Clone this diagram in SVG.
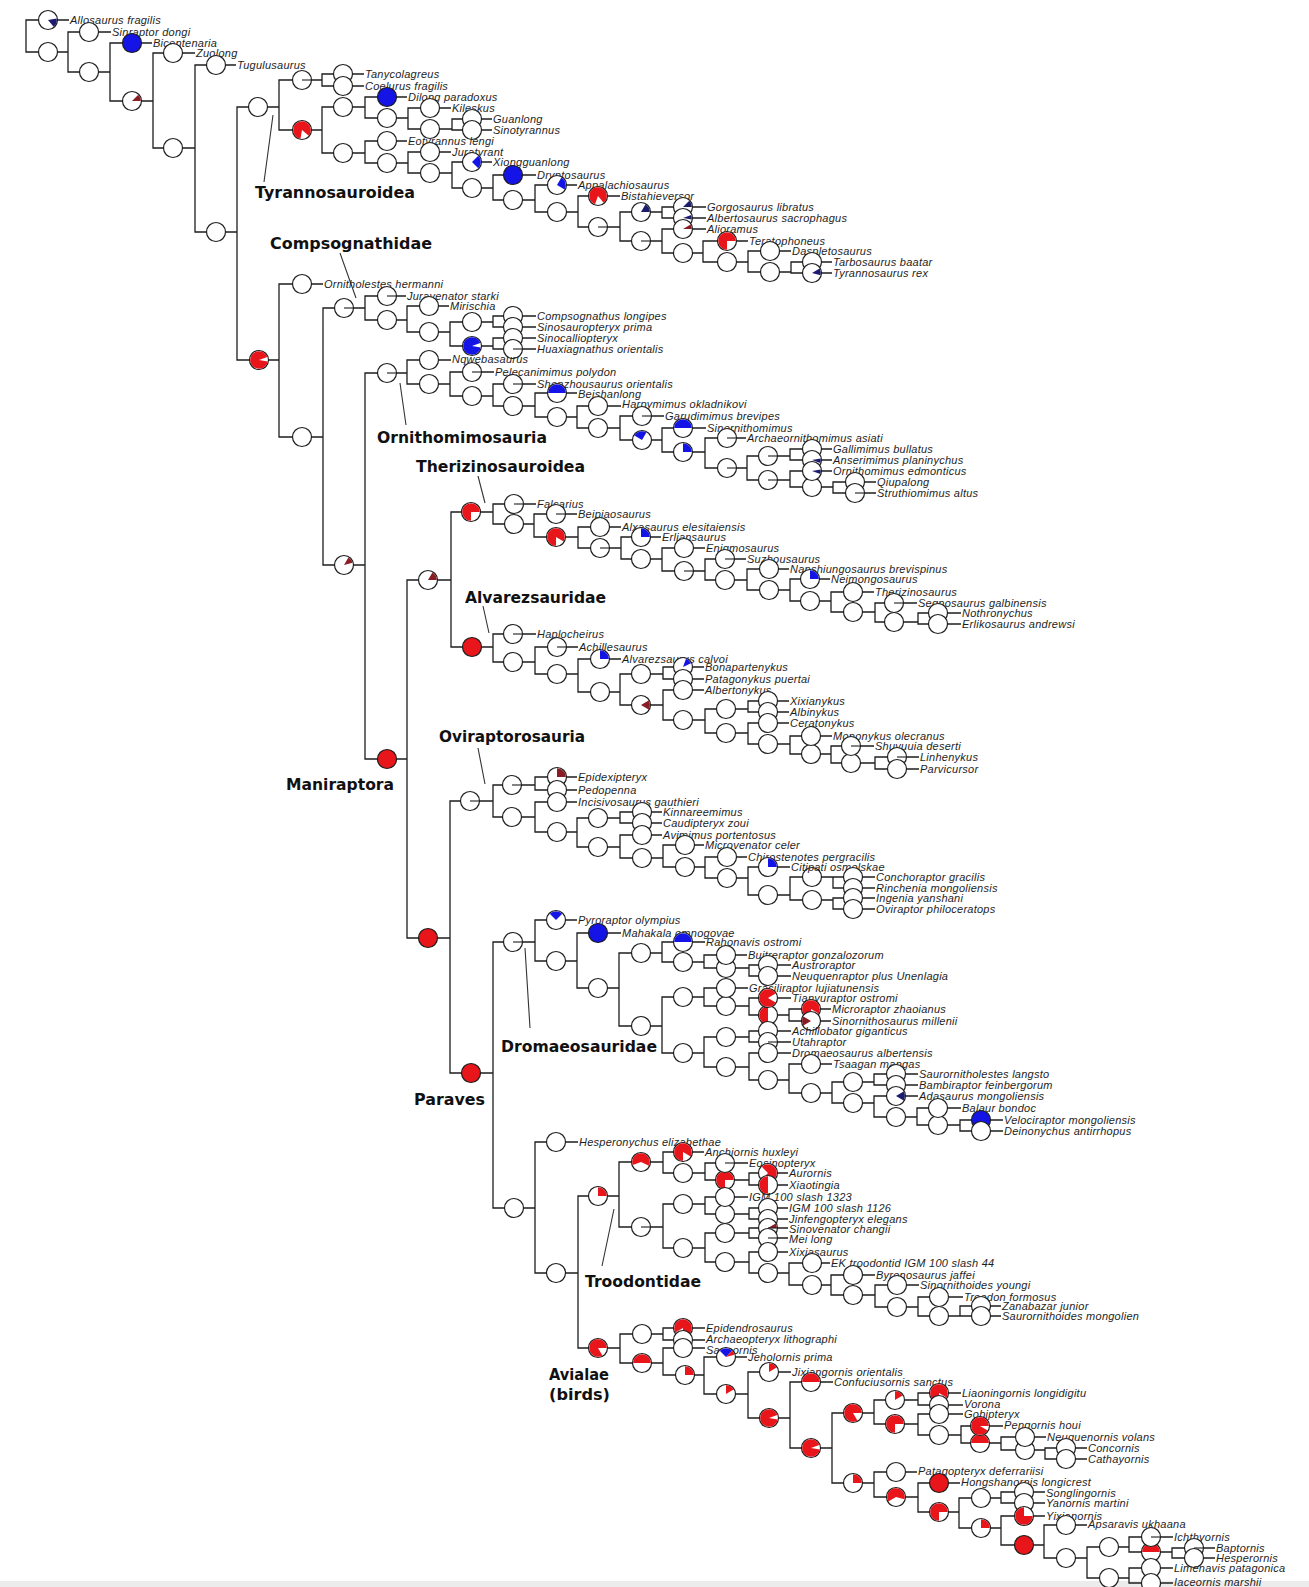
<svg xmlns="http://www.w3.org/2000/svg" width="1309" height="1587" viewBox="0 0 1309 1587">
<style>
.c{fill:none;stroke:#1e1e1e;stroke-width:1.3}
.p{fill:none;stroke:#333;stroke-width:1.1}
.w{fill:#fff;stroke:#1e1e1e;stroke-width:1.2}
.R{fill:#e8161b;stroke:#1e1e1e;stroke-width:1.2}
.B{fill:#1414e6;stroke:#1e1e1e;stroke-width:1.2}
.r{fill:#e8161b}.b{fill:#1414e6}.d{fill:#8a1c24}.v{fill:#1c1c6e}
.k{fill:none;stroke:#1e1e1e;stroke-width:1.1}
text.t{font-family:"Liberation Sans",Arial,sans-serif;font-style:italic;font-size:11px;letter-spacing:0.25px;fill:#1e1e1e}
text.h{font-family:"DejaVu Sans","Liberation Sans",sans-serif;font-weight:bold;font-size:15px;fill:#111}
</style>
<defs>
<path id="w30" d="M0,0V-8.8A8.8,8.8 0 0 1 4.4,-7.62Z"/>
<path id="w45" d="M0,0V-8.8A8.8,8.8 0 0 1 6.22,-6.22Z"/>
<path id="w60" d="M0,0V-8.8A8.8,8.8 0 0 1 7.62,-4.4Z"/>
<path id="w90" d="M0,0V-8.8A8.8,8.8 0 0 1 8.8,0Z"/>
<path id="w180" d="M0,0V-8.8A8.8,8.8 0 0 1 0,8.8Z"/>
<path id="w225" d="M0,0V-8.8A8.8,8.8 0 1 1 -6.22,6.22Z"/>
<path id="w270" d="M0,0V-8.8A8.8,8.8 0 1 1 -8.8,0Z"/>
<path id="w300" d="M0,0V-8.8A8.8,8.8 0 1 1 -7.62,-4.4Z"/>
<path id="w330" d="M0,0V-8.8A8.8,8.8 0 1 1 -4.4,-7.62Z"/>
</defs>
<rect x="0" y="0" width="1309" height="1587" fill="#fff"/>
<rect x="0" y="1581" width="1309" height="6" fill="#ececec"/>

<g id="connectors">
<path class="c" d="M48,20H26V52H48M48,52H68M89,32H68V72H89M89,72H110M132,43H110V101H132M132,101H153M173,53H153V148H173M173,148H195M216,65H195V232H216M216,232H237M258,107H237V360H259"/>
<path class="c" d="M258,107H279M302,80H279V130H302M302,80H322M343,74H322V86H343M302,130H322M343,107H322V153H343M343,107H365M387,97H365V118H387M387,118H408M430,108H408V129H430M430,129H452M472,119H452V130H472M343,153H365M387,141H365V163H387M387,163H408M430,152H408V173H430M430,173H452M472,162H452V188H472M472,188H493M513,175H493V200H513M513,200H535M557,185H535V212H557M557,212H578M598,196H578V227H598M598,227H620M641,212H620V241H641M641,212H662M683,207H662V218H683M641,241H662M683,229H662V253H683M683,253H703M727,241H703V262H727M727,262H748M770,251H748V272H770M770,272H791M812,262H791V273H812"/>
<path class="c" d="M259,360H279M302,284H279V437H302M302,437H323M344,308H323V565H344M344,308H365M387,296H365V320H387M387,320H407M429,306H407V332H429M429,332H450M472,322H450V346H472M472,322H493M513,316H493V327H513M472,346H493M513,338H493V349H513M344,565H365M387,373H365V759H387"/>
<path class="c" d="M387,373H407M429,360H407V384H429M429,384H450M472,372H450V396H472M472,396H493M513,384H493V406H513M513,406H535M557,393H535V417H557M557,417H577M598,406H577V428H598M598,428H620M642,416H620V440H642M642,440H662M683,428H662V452H683M683,452H705M727,438H705V468H727M727,468H747M768,456H747V480H768M768,456H790M812,449H790V460H812M768,480H790M812,471H790V487H812M812,487H833M855,482H833V493H855"/>
<path class="c" d="M387,759H407M428,580H407V938H428M428,580H451M471,512H451V647H472M471,512H493M514,504H493V524H514M514,524H534M556,514H534V537H556M556,537H578M600,527H578V548H600M600,548H621M641,537H621V559H641M641,559H662M684,548H662V571H684M684,571H705M725,559H705V580H725M725,580H747M769,569H747V590H769M769,590H790M810,579H790V601H810M810,601H831M853,592H831V612H853M853,612H875M894,603H875V622H894M894,622H918M938,613H918V624H938"/>
<path class="c" d="M472,647H493M513,634H493V662H513M513,662H535M557,647H535V674H557M557,674H578M600,659H578V692H600M600,692H620M641,674H620V705H641M641,674H663M683,667H663V679H683M641,705H663M683,690H663V720H683M683,720H705M726,709H705V733H726M726,709H748M768,701H748V712H768M726,733H748M768,723H748V744H768M768,744H790M811,736H790V754H811M811,754H831M851,746H831V763H851M851,763H875M897,757H875V769H897"/>
<path class="c" d="M428,938H450M470,801H450V1073H471M470,801H493M512,785H493V817H512M512,785H535M557,777H535V790H557M512,817H535M557,802H535V832H557M557,832H577M598,818H577V847H598M598,818H620M642,812H620V823H642M598,847H620M642,835H620V858H642M642,858H663M685,845H663V867H685M685,867H705M727,857H705V878H727M727,878H748M768,867H748V895H768M768,895H790M812,877H790V900H812M812,877H833M853,877H833V888H853M812,900H833M853,898H833V909H853"/>
<path class="c" d="M471,1073H493M513,942H493V1208H514M513,942H535M556,920H535V961H556M556,961H577M598,933H577V988H598M598,988H619M641,953H619V1026H641M641,953H662M683,942H662V962H683M683,962H704M726,955H704V968H726M726,968H749M768,965H749V976H768M641,1026H662M683,997H662V1053H683M683,997H704M726,988H704V1006H726M726,1006H749M768,998H749V1015H768M768,1015H789M811,1009H789V1021H811M683,1053H704M726,1037H704V1067H726M726,1037H749M768,1031H749V1042H768M726,1067H749M768,1053H749V1080H768M768,1080H789M811,1064H789V1093H811M811,1093H832M853,1082H832V1103H853M853,1082H874M896,1074H874V1085H896M853,1103H874M896,1096H874V1117H896M896,1117H917M938,1108H917V1125H938M938,1125H960M981,1120H960V1131H981"/>
<path class="c" d="M514,1208H535M556,1142H535V1273H556M556,1273H578M598,1196H578V1348H598M598,1196H619M641,1162H619V1227H641M641,1162H663M683,1152H663V1173H683M683,1173H705M725,1163H705V1180H725M725,1180H749M768,1173H749V1185H768M641,1227H663M683,1204H663V1248H683M683,1204H705M725,1197H705V1214H725M725,1214H749M768,1208H749V1219H768M683,1248H705M725,1233H705V1262H725M725,1233H749M768,1228H749V1238H768M725,1262H749M768,1252H749V1273H768M768,1273H789M812,1263H789V1285H812M812,1285H831M853,1275H831V1295H853M853,1295H875M897,1285H875V1307H897M897,1307H918M939,1297H918V1316H939M939,1316H960M981,1306H960V1316H981"/>
<path class="c" d="M598,1348H620M642,1334H620V1363H642M642,1334H663M683,1328H663V1340H683M642,1363H663M683,1348H663V1375H685M685,1375H704M726,1357H704V1394H726M726,1394H748M769,1372H748V1418H769M769,1418H790M811,1382H790V1448H811M811,1448H832M853,1413H832V1483H853M853,1413H874M895,1400H874V1424H895M895,1400H918M939,1393H918V1405H939M895,1424H918M939,1414H918V1435H939M939,1435H961M980,1426H961V1443H980M980,1443H1001M1025,1437H1001V1450H1025M1025,1450H1045M1066,1448H1045V1459H1066M853,1483H874M896,1472H874V1497H896M896,1497H918M939,1483H918V1512H939M939,1512H959M981,1498H959V1528H981M981,1498H1001M1024,1492H1001V1503H1024M981,1528H1001M1024,1516H1001V1545H1024M1024,1545H1044M1066,1525H1044V1558H1066M1066,1558H1087M1109,1547H1087V1578H1109M1109,1547H1129M1151,1537H1129V1552H1151M1151,1552H1172M1194,1548H1172V1558H1194M1109,1578H1129M1151,1568H1129V1583H1151"/>
<path class="c" d="M48,20H69M89,32H111M132,43H152M173,53H195M216,65H236M343,74H364M343,86H364M387,97H407M430,108H451M472,119H492M472,130H492M387,141H407M430,152H451M472,162H492M513,175H536M557,185H577M598,196H620M683,207H706M683,218H706M683,229H706M727,241H748M770,251H791M812,262H832M812,273H832M302,284H323M387,296H406M429,306H449M513,316H536M513,327H536M513,338H536M513,349H536M429,360H451M472,372H494M513,384H536M557,393H577M598,406H621M642,416H664M683,428H706M727,438H746M812,449H832M812,460H832M812,471H832M855,482H876M855,493H876M514,504H536M556,514H577M600,527H621M641,537H661M684,548H705M725,559H746M769,569H789M810,579H830M853,592H874M894,603H917M938,613H961M938,624H961M513,634H536M557,647H578M600,659H621M683,667H704M683,679H704M683,690H704M768,701H789M768,712H789M768,723H789M811,736H832M851,746H874M897,757H919M897,769H919M557,777H577M557,790H577M557,802H577M642,812H662M642,823H662M642,835H662M685,845H704M727,857H747M768,867H790M853,877H875M853,888H875M853,898H875M853,909H875M556,920H577M598,933H621M683,942H705M726,955H747M768,965H791M768,976H791M726,988H748M768,998H791M811,1009H831M811,1021H831M768,1031H791M768,1042H791M768,1053H791M811,1064H832M896,1074H918M896,1085H918M896,1096H918M938,1108H961M981,1120H1003M981,1131H1003M556,1142H578M683,1152H704M725,1163H748M768,1173H788M768,1185H788M725,1197H748M768,1208H788M768,1219H788M768,1228H788M768,1238H788M768,1252H788M812,1263H830M853,1275H875M897,1285H919M939,1297H963M981,1306H1001M981,1316H1001M683,1328H705M683,1340H705M683,1348H705M726,1357H747M769,1372H791M811,1382H833M939,1393H961M939,1405H963M939,1414H963M980,1426H1003M1025,1437H1046M1066,1448H1087M1066,1459H1087M896,1472H917M939,1483H960M1024,1492H1045M1024,1503H1045M1024,1516H1045M1066,1525H1087M1151,1537H1173M1194,1548H1215M1194,1558H1215M1151,1568H1173M1151,1583H1173"/>
<path class="p" d="M273,115L264,182M340,253L356,298M400,383L406,425M478,476L485,503M483,606L489,633M478,748L485,784M525,948L530,1028M614,1209L602,1266"/>
</g>

<g id="clade-labels">
<text class="h" x="255" y="198" textLength="160" lengthAdjust="spacingAndGlyphs">Tyrannosauroidea</text>
<text class="h" x="270" y="249" textLength="162" lengthAdjust="spacingAndGlyphs">Compsognathidae</text>
<text class="h" x="377" y="443" textLength="170" lengthAdjust="spacingAndGlyphs">Ornithomimosauria</text>
<text class="h" x="416" y="472" textLength="169" lengthAdjust="spacingAndGlyphs">Therizinosauroidea</text>
<text class="h" x="465" y="603" textLength="141" lengthAdjust="spacingAndGlyphs">Alvarezsauridae</text>
<text class="h" x="439" y="742" textLength="146" lengthAdjust="spacingAndGlyphs">Oviraptorosauria</text>
<text class="h" x="286" y="790" textLength="108" lengthAdjust="spacingAndGlyphs">Maniraptora</text>
<text class="h" x="501" y="1052" textLength="156" lengthAdjust="spacingAndGlyphs">Dromaeosauridae</text>
<text class="h" x="414" y="1105" textLength="71" lengthAdjust="spacingAndGlyphs">Paraves</text>
<text class="h" x="585" y="1287" textLength="116" lengthAdjust="spacingAndGlyphs">Troodontidae</text>
<text class="h" x="549" y="1380" textLength="60" lengthAdjust="spacingAndGlyphs">Avialae</text>
<text class="h" x="549" y="1400" textLength="61" lengthAdjust="spacingAndGlyphs">(birds)</text>
</g>

<g id="internal-nodes">
<g id="n-root1"><circle class="w" cx="48" cy="52" r="9.5"/></g>
<g id="n-n2"><circle class="w" cx="89" cy="72" r="9.5"/></g>
<g id="n-n3"><circle class="w" cx="132" cy="101" r="9.5"/><use href="#w45" class="d" transform="translate(132,101) rotate(45)"/></g>
<g id="n-n4"><circle class="w" cx="173" cy="148" r="9.5"/></g>
<g id="n-n5"><circle class="w" cx="216" cy="232" r="9.5"/></g>
<g id="n-tyr"><circle class="w" cx="258" cy="107" r="9.5"/></g>
<g id="n-t1"><circle class="w" cx="302" cy="80" r="9.5"/><path class="k" d="M302,80h9"/></g>
<g id="n-t2"><circle class="w" cx="302" cy="130" r="9.5"/><use href="#w300" class="r" transform="translate(302,130) rotate(190)"/></g>
<g id="n-t3"><circle class="w" cx="343" cy="107" r="9.5"/></g>
<g id="n-t4"><circle class="w" cx="343" cy="153" r="9.5"/></g>
<g id="n-t5"><circle class="w" cx="387" cy="118" r="9.5"/></g>
<g id="n-t6"><circle class="w" cx="430" cy="129" r="9.5"/></g>
<g id="n-t7"><circle class="w" cx="387" cy="163" r="9.5"/></g>
<g id="n-t8"><circle class="w" cx="430" cy="173" r="9.5"/></g>
<g id="n-t9"><circle class="w" cx="472" cy="188" r="9.5"/></g>
<g id="n-t10"><circle class="w" cx="513" cy="200" r="9.5"/></g>
<g id="n-t11"><circle class="w" cx="557" cy="212" r="9.5"/></g>
<g id="n-t12"><circle class="w" cx="598" cy="227" r="9.5"/><path class="k" d="M598,227h9"/></g>
<g id="n-t13"><circle class="w" cx="641" cy="212" r="9.5"/><use href="#w60" class="v" transform="translate(641,212) rotate(30)"/></g>
<g id="n-t14"><circle class="w" cx="641" cy="241" r="9.5"/><path class="k" d="M641,241h9"/></g>
<g id="n-t15"><circle class="w" cx="683" cy="253" r="9.5"/></g>
<g id="n-t16"><circle class="w" cx="727" cy="262" r="9.5"/></g>
<g id="n-t17"><circle class="w" cx="770" cy="272" r="9.5"/></g>
<g id="n-c0"><circle class="w" cx="259" cy="360" r="9.5"/><use href="#w330" class="r" transform="translate(259,360) rotate(100)"/></g>
<g id="n-c1"><circle class="w" cx="302" cy="437" r="9.5"/></g>
<g id="n-compso"><circle class="w" cx="344" cy="308" r="9.5"/><path class="k" d="M344,308h9"/></g>
<g id="n-c3"><circle class="w" cx="387" cy="320" r="9.5"/></g>
<g id="n-c4"><circle class="w" cx="429" cy="332" r="9.5"/></g>
<g id="n-c5"><circle class="w" cx="472" cy="322" r="9.5"/></g>
<g id="n-c6"><circle class="w" cx="472" cy="346" r="9.5"/><use href="#w330" class="b" transform="translate(472,346) rotate(100)"/></g>
<g id="n-m0"><circle class="w" cx="344" cy="565" r="9.5"/><use href="#w45" class="d" transform="translate(344,565) rotate(30)"/></g>
<g id="n-ornitho"><circle class="w" cx="387" cy="373" r="9.5"/><path class="k" d="M387,373h9"/></g>
<g id="n-o1"><circle class="w" cx="429" cy="384" r="9.5"/></g>
<g id="n-o2"><circle class="w" cx="472" cy="396" r="9.5"/></g>
<g id="n-o3"><circle class="w" cx="513" cy="406" r="9.5"/></g>
<g id="n-o4"><circle class="w" cx="557" cy="417" r="9.5"/></g>
<g id="n-o5"><circle class="w" cx="598" cy="428" r="9.5"/></g>
<g id="n-o6"><circle class="w" cx="642" cy="440" r="9.5"/><use href="#w90" class="b" transform="translate(642,440) rotate(300)"/></g>
<g id="n-o7"><circle class="w" cx="683" cy="452" r="9.5"/><use href="#w90" class="b" transform="translate(683,452)"/></g>
<g id="n-o8"><circle class="w" cx="727" cy="468" r="9.5"/><path class="k" d="M727,468h9"/></g>
<g id="n-o9"><circle class="w" cx="768" cy="456" r="9.5"/><path class="k" d="M768,456h9"/></g>
<g id="n-o10"><circle class="w" cx="768" cy="480" r="9.5"/><path class="k" d="M768,480h9"/></g>
<g id="n-o11"><circle class="w" cx="812" cy="487" r="9.5"/></g>
<g id="n-maniraptora"><circle class="R" cx="387" cy="759" r="9.5"/></g>
<g id="n-ma"><circle class="w" cx="428" cy="580" r="9.5"/><use href="#w60" class="d" transform="translate(428,580) rotate(30)"/></g>
<g id="n-mb"><circle class="R" cx="428" cy="938" r="9.5"/></g>
<g id="n-therizino"><circle class="w" cx="471" cy="512" r="9.5"/><use href="#w270" class="r" transform="translate(471,512) rotate(180)"/></g>
<g id="n-th1"><circle class="w" cx="514" cy="524" r="9.5"/></g>
<g id="n-th2"><circle class="w" cx="556" cy="537" r="9.5"/><use href="#w300" class="r" transform="translate(556,537) rotate(180)"/></g>
<g id="n-th3"><circle class="w" cx="600" cy="548" r="9.5"/><path class="k" d="M600,548h9"/></g>
<g id="n-th4"><circle class="w" cx="641" cy="559" r="9.5"/></g>
<g id="n-th5"><circle class="w" cx="684" cy="571" r="9.5"/><path class="k" d="M684,571h9"/></g>
<g id="n-th6"><circle class="w" cx="725" cy="580" r="9.5"/></g>
<g id="n-th7"><circle class="w" cx="769" cy="590" r="9.5"/></g>
<g id="n-th8"><circle class="w" cx="810" cy="601" r="9.5"/></g>
<g id="n-th9"><circle class="w" cx="853" cy="612" r="9.5"/></g>
<g id="n-th10"><circle class="w" cx="894" cy="622" r="9.5"/></g>
<g id="n-alvarez"><circle class="R" cx="472" cy="647" r="9.5"/></g>
<g id="n-al1"><circle class="w" cx="513" cy="662" r="9.5"/></g>
<g id="n-al2"><circle class="w" cx="557" cy="674" r="9.5"/></g>
<g id="n-al3"><circle class="w" cx="600" cy="692" r="9.5"/></g>
<g id="n-al4"><circle class="w" cx="641" cy="674" r="9.5"/></g>
<g id="n-al5"><circle class="w" cx="641" cy="705" r="9.5"/><use href="#w60" class="d" transform="translate(641,705) rotate(60)"/></g>
<g id="n-al6"><circle class="w" cx="683" cy="720" r="9.5"/></g>
<g id="n-al7"><circle class="w" cx="726" cy="709" r="9.5"/></g>
<g id="n-al8"><circle class="w" cx="726" cy="733" r="9.5"/></g>
<g id="n-al9"><circle class="w" cx="768" cy="744" r="9.5"/></g>
<g id="n-al10"><circle class="w" cx="811" cy="754" r="9.5"/></g>
<g id="n-al11"><circle class="w" cx="851" cy="763" r="9.5"/></g>
<g id="n-ovirapt"><circle class="w" cx="470" cy="801" r="9.5"/><path class="k" d="M470,801h9"/></g>
<g id="n-ov1"><circle class="w" cx="512" cy="785" r="9.5"/><path class="k" d="M512,785h9"/></g>
<g id="n-ov2"><circle class="w" cx="512" cy="817" r="9.5"/></g>
<g id="n-ov3"><circle class="w" cx="557" cy="832" r="9.5"/></g>
<g id="n-ov4"><circle class="w" cx="598" cy="818" r="9.5"/></g>
<g id="n-ov5"><circle class="w" cx="598" cy="847" r="9.5"/></g>
<g id="n-ov6"><circle class="w" cx="642" cy="858" r="9.5"/></g>
<g id="n-ov7"><circle class="w" cx="685" cy="867" r="9.5"/></g>
<g id="n-ov8"><circle class="w" cx="727" cy="878" r="9.5"/></g>
<g id="n-ov9"><circle class="w" cx="768" cy="895" r="9.5"/></g>
<g id="n-ov10"><circle class="w" cx="812" cy="877" r="9.5"/></g>
<g id="n-ov11"><circle class="w" cx="812" cy="900" r="9.5"/></g>
<g id="n-paraves"><circle class="R" cx="471" cy="1073" r="9.5"/></g>
<g id="n-dromaeo"><circle class="w" cx="513" cy="942" r="9.5"/><path class="k" d="M513,942h9"/></g>
<g id="n-dr1"><circle class="w" cx="556" cy="961" r="9.5"/></g>
<g id="n-dr2"><circle class="w" cx="598" cy="988" r="9.5"/></g>
<g id="n-dr3"><circle class="w" cx="641" cy="953" r="9.5"/></g>
<g id="n-dr4"><circle class="w" cx="641" cy="1026" r="9.5"/></g>
<g id="n-dr5"><circle class="w" cx="683" cy="962" r="9.5"/></g>
<g id="n-dr6"><circle class="w" cx="726" cy="968" r="9.5"/></g>
<g id="n-dr7"><circle class="w" cx="683" cy="997" r="9.5"/></g>
<g id="n-dr8"><circle class="w" cx="683" cy="1053" r="9.5"/></g>
<g id="n-dr9"><circle class="w" cx="726" cy="1006" r="9.5"/></g>
<g id="n-dr10"><circle class="w" cx="768" cy="1015" r="9.5"/><use href="#w180" class="r" transform="translate(768,1015) rotate(180)"/></g>
<g id="n-dr11"><circle class="w" cx="726" cy="1037" r="9.5"/></g>
<g id="n-dr12"><circle class="w" cx="726" cy="1067" r="9.5"/></g>
<g id="n-dr13"><circle class="w" cx="768" cy="1080" r="9.5"/></g>
<g id="n-dr14"><circle class="w" cx="811" cy="1093" r="9.5"/></g>
<g id="n-dr15"><circle class="w" cx="853" cy="1082" r="9.5"/></g>
<g id="n-dr16"><circle class="w" cx="853" cy="1103" r="9.5"/></g>
<g id="n-dr17"><circle class="w" cx="896" cy="1117" r="9.5"/></g>
<g id="n-dr18"><circle class="w" cx="938" cy="1125" r="9.5"/></g>
<g id="n-pb"><circle class="w" cx="514" cy="1208" r="9.5"/></g>
<g id="n-pc"><circle class="w" cx="556" cy="1273" r="9.5"/></g>
<g id="n-troodont"><circle class="w" cx="598" cy="1196" r="9.5"/><use href="#w90" class="r" transform="translate(598,1196)"/></g>
<g id="n-tr1"><circle class="w" cx="641" cy="1162" r="9.5"/><use href="#w225" class="r" transform="translate(641,1162) rotate(250)"/></g>
<g id="n-tr2"><circle class="w" cx="641" cy="1227" r="9.5"/><path class="k" d="M641,1227h9"/></g>
<g id="n-tr3"><circle class="w" cx="683" cy="1173" r="9.5"/></g>
<g id="n-tr4"><circle class="w" cx="725" cy="1180" r="9.5"/><use href="#w270" class="r" transform="translate(725,1180) rotate(180)"/></g>
<g id="n-tr5"><circle class="w" cx="683" cy="1204" r="9.5"/></g>
<g id="n-tr6"><circle class="w" cx="683" cy="1248" r="9.5"/></g>
<g id="n-tr7"><circle class="w" cx="725" cy="1214" r="9.5"/></g>
<g id="n-tr8"><circle class="w" cx="725" cy="1233" r="9.5"/></g>
<g id="n-tr9"><circle class="w" cx="725" cy="1262" r="9.5"/></g>
<g id="n-tr10"><circle class="w" cx="768" cy="1273" r="9.5"/></g>
<g id="n-tr11"><circle class="w" cx="812" cy="1285" r="9.5"/></g>
<g id="n-tr12"><circle class="w" cx="853" cy="1295" r="9.5"/></g>
<g id="n-tr13"><circle class="w" cx="897" cy="1307" r="9.5"/></g>
<g id="n-tr14"><circle class="w" cx="939" cy="1316" r="9.5"/></g>
<g id="n-avialae"><circle class="w" cx="598" cy="1348" r="9.5"/><use href="#w300" class="r" transform="translate(598,1348) rotate(150)"/></g>
<g id="n-av1"><circle class="w" cx="642" cy="1334" r="9.5"/></g>
<g id="n-av2"><circle class="w" cx="642" cy="1363" r="9.5"/><use href="#w180" class="r" transform="translate(642,1363) rotate(270)"/></g>
<g id="n-av3"><circle class="w" cx="685" cy="1375" r="9.5"/><use href="#w90" class="r" transform="translate(685,1375)"/></g>
<g id="n-av4"><circle class="w" cx="726" cy="1394" r="9.5"/><use href="#w60" class="r" transform="translate(726,1394)"/></g>
<g id="n-av5"><circle class="w" cx="769" cy="1418" r="9.5"/><use href="#w330" class="r" transform="translate(769,1418) rotate(100)"/></g>
<g id="n-av6"><circle class="w" cx="811" cy="1448" r="9.5"/><use href="#w330" class="r" transform="translate(811,1448) rotate(100)"/></g>
<g id="n-av7"><circle class="w" cx="853" cy="1413" r="9.5"/><use href="#w300" class="r" transform="translate(853,1413) rotate(150)"/></g>
<g id="n-av8"><circle class="w" cx="853" cy="1483" r="9.5"/><use href="#w90" class="r" transform="translate(853,1483)"/></g>
<g id="n-av9"><circle class="w" cx="895" cy="1400" r="9.5"/><use href="#w60" class="r" transform="translate(895,1400)"/></g>
<g id="n-av10"><circle class="w" cx="895" cy="1424" r="9.5"/><use href="#w270" class="r" transform="translate(895,1424) rotate(180)"/></g>
<g id="n-av11"><circle class="w" cx="939" cy="1435" r="9.5"/></g>
<g id="n-av12"><circle class="w" cx="980" cy="1443" r="9.5"/><use href="#w180" class="r" transform="translate(980,1443) rotate(270)"/></g>
<g id="n-av13"><circle class="w" cx="1025" cy="1450" r="9.5"/></g>
<g id="n-av14"><circle class="w" cx="896" cy="1497" r="9.5"/><use href="#w225" class="r" transform="translate(896,1497) rotate(240)"/></g>
<g id="n-av15"><circle class="w" cx="939" cy="1512" r="9.5"/><use href="#w270" class="r" transform="translate(939,1512) rotate(180)"/></g>
<g id="n-av16"><circle class="w" cx="981" cy="1498" r="9.5"/></g>
<g id="n-av17"><circle class="w" cx="981" cy="1528" r="9.5"/><use href="#w90" class="r" transform="translate(981,1528)"/></g>
<g id="n-av18"><circle class="R" cx="1024" cy="1545" r="9.5"/></g>
<g id="n-av19"><circle class="w" cx="1066" cy="1558" r="9.5"/></g>
<g id="n-av20"><circle class="w" cx="1109" cy="1547" r="9.5"/></g>
<g id="n-av21"><circle class="w" cx="1109" cy="1578" r="9.5"/></g>
<g id="n-av22"><circle class="w" cx="1151" cy="1552" r="9.5"/><use href="#w180" class="r" transform="translate(1151,1552) rotate(270)"/></g>
</g>

<g id="leaves">
<g id="l-allosaurus"><circle class="w" cx="48" cy="20" r="9.5"/><use href="#w60" class="v" transform="translate(48,20) rotate(80)"/><text class="t" x="70" y="24">Allosaurus fragilis</text></g>
<g id="l-sinraptor"><circle class="w" cx="89" cy="32" r="9.5"/><text class="t" x="112" y="36">Sinraptor dongi</text></g>
<g id="l-bicentenaria"><circle class="B" cx="132" cy="43" r="9.5"/><text class="t" x="153" y="47">Bicentenaria</text></g>
<g id="l-zuolong"><circle class="w" cx="173" cy="53" r="9.5"/><text class="t" x="196" y="57">Zuolong</text></g>
<g id="l-tugulusaurus"><circle class="w" cx="216" cy="65" r="9.5"/><text class="t" x="237" y="69">Tugulusaurus</text></g>
<g id="l-tanycolagreus"><circle class="w" cx="343" cy="74" r="9.5"/><text class="t" x="365" y="78">Tanycolagreus</text></g>
<g id="l-coelurus"><circle class="w" cx="343" cy="86" r="9.5"/><text class="t" x="365" y="90">Coelurus fragilis</text></g>
<g id="l-dilong"><circle class="B" cx="387" cy="97" r="9.5"/><text class="t" x="408" y="101">Dilong paradoxus</text></g>
<g id="l-kileskus"><circle class="w" cx="430" cy="108" r="9.5"/><text class="t" x="452" y="112">Kileskus</text></g>
<g id="l-guanlong"><circle class="w" cx="472" cy="119" r="9.5"/><text class="t" x="493" y="123">Guanlong</text></g>
<g id="l-sinotyrannus"><circle class="w" cx="472" cy="130" r="9.5"/><text class="t" x="493" y="134">Sinotyrannus</text></g>
<g id="l-eotyrannus"><circle class="w" cx="387" cy="141" r="9.5"/><text class="t" x="408" y="145">Eotyrannus lengi</text></g>
<g id="l-juratyrant"><circle class="w" cx="430" cy="152" r="9.5"/><text class="t" x="452" y="156">Juratyrant</text></g>
<g id="l-xiongguanlong"><circle class="w" cx="472" cy="162" r="9.5"/><use href="#w90" class="b" transform="translate(472,162) rotate(45)"/><text class="t" x="493" y="166">Xiongguanlong</text></g>
<g id="l-dryptosaurus"><circle class="B" cx="513" cy="175" r="9.5"/><text class="t" x="537" y="179">Dryptosaurus</text></g>
<g id="l-appalachiosaurus"><circle class="w" cx="557" cy="185" r="9.5"/><use href="#w90" class="b" transform="translate(557,185) rotate(30)"/><text class="t" x="578" y="189">Appalachiosaurus</text></g>
<g id="l-bistahieversor"><circle class="w" cx="598" cy="196" r="9.5"/><use href="#w300" class="r" transform="translate(598,196) rotate(200)"/><text class="t" x="621" y="200">Bistahieversor</text></g>
<g id="l-gorgosaurus"><circle class="w" cx="683" cy="207" r="9.5"/><use href="#w45" class="v" transform="translate(683,207) rotate(45)"/><text class="t" x="707" y="211">Gorgosaurus libratus</text></g>
<g id="l-albertosaurus"><circle class="w" cx="683" cy="218" r="9.5"/><use href="#w30" class="v" transform="translate(683,218) rotate(70)"/><text class="t" x="707" y="222">Albertosaurus sacrophagus</text></g>
<g id="l-alioramus"><circle class="w" cx="683" cy="229" r="9.5"/><use href="#w30" class="d" transform="translate(683,229) rotate(60)"/><text class="t" x="707" y="233">Alioramus</text></g>
<g id="l-teratophoneus"><circle class="w" cx="727" cy="241" r="9.5"/><use href="#w270" class="r" transform="translate(727,241) rotate(180)"/><text class="t" x="749" y="245">Teratophoneus</text></g>
<g id="l-daspletosaurus"><circle class="w" cx="770" cy="251" r="9.5"/><text class="t" x="792" y="255">Daspletosaurus</text></g>
<g id="l-tarbosaurus"><circle class="w" cx="812" cy="262" r="9.5"/><text class="t" x="833" y="266">Tarbosaurus baatar</text></g>
<g id="l-tyrannosaurus"><circle class="w" cx="812" cy="273" r="9.5"/><use href="#w45" class="v" transform="translate(812,273) rotate(60)"/><text class="t" x="833" y="277">Tyrannosaurus rex</text></g>

<g id="l-ornitholestes"><circle class="w" cx="302" cy="284" r="9.5"/><text class="t" x="324" y="288">Ornitholestes hermanni</text></g>
<g id="l-juravenator"><circle class="w" cx="387" cy="296" r="9.5"/><path class="k" d="M387,296h9"/><text class="t" x="407" y="300">Juravenator starki</text></g>
<g id="l-mirischia"><circle class="w" cx="429" cy="306" r="9.5"/><text class="t" x="450" y="310">Mirischia</text></g>
<g id="l-compsognathus"><circle class="w" cx="513" cy="316" r="9.5"/><text class="t" x="537" y="320">Compsognathus longipes</text></g>
<g id="l-sinosauropteryx"><circle class="w" cx="513" cy="327" r="9.5"/><text class="t" x="537" y="331">Sinosauropteryx prima</text></g>
<g id="l-sinocalliopteryx"><circle class="w" cx="513" cy="338" r="9.5"/><text class="t" x="537" y="342">Sinocalliopteryx</text></g>
<g id="l-huaxiagnathus"><circle class="w" cx="513" cy="349" r="9.5"/><path class="k" d="M513,349h9"/><text class="t" x="537" y="353">Huaxiagnathus orientalis</text></g>
<g id="l-nqwebasaurus"><circle class="w" cx="429" cy="360" r="9.5"/><text class="t" x="452" y="363">Nqwebasaurus</text></g>
<g id="l-pelecanimimus"><circle class="w" cx="472" cy="372" r="9.5"/><path class="k" d="M472,372h9"/><text class="t" x="495" y="376">Pelecanimimus polydon</text></g>
<g id="l-shenzhousaurus"><circle class="w" cx="513" cy="384" r="9.5"/><path class="k" d="M513,384h9"/><text class="t" x="537" y="388">Shenzhousaurus orientalis</text></g>
<g id="l-beishanlong"><circle class="w" cx="557" cy="393" r="9.5"/><use href="#w180" class="b" transform="translate(557,393) rotate(270)"/><text class="t" x="578" y="398">Beishanlong</text></g>
<g id="l-harpymimus"><circle class="w" cx="598" cy="406" r="9.5"/><text class="t" x="622" y="408">Harpymimus okladnikovi</text></g>
<g id="l-garudimimus"><circle class="w" cx="642" cy="416" r="9.5"/><path class="k" d="M642,416h9"/><text class="t" x="665" y="420">Garudimimus brevipes</text></g>
<g id="l-sinornithomimus"><circle class="w" cx="683" cy="428" r="9.5"/><use href="#w180" class="b" transform="translate(683,428) rotate(270)"/><text class="t" x="707" y="432">Sinornithomimus</text></g>
<g id="l-archaeornithomimus"><circle class="w" cx="727" cy="438" r="9.5"/><path class="k" d="M727,438h9"/><text class="t" x="747" y="442">Archaeornithomimus asiati</text></g>
<g id="l-gallimimus"><circle class="w" cx="812" cy="449" r="9.5"/><text class="t" x="833" y="453">Gallimimus bullatus</text></g>
<g id="l-anserimimus"><circle class="w" cx="812" cy="460" r="9.5"/><use href="#w30" class="v" transform="translate(812,460) rotate(80)"/><text class="t" x="833" y="464">Anserimimus planinychus</text></g>
<g id="l-ornithomimus"><circle class="w" cx="812" cy="471" r="9.5"/><use href="#w30" class="v" transform="translate(812,471) rotate(80)"/><text class="t" x="833" y="475">Ornithomimus edmonticus</text></g>
<g id="l-qiupalong"><circle class="w" cx="855" cy="482" r="9.5"/><text class="t" x="877" y="486">Qiupalong</text></g>
<g id="l-struthiomimus"><circle class="w" cx="855" cy="493" r="9.5"/><path class="k" d="M855,493h9"/><text class="t" x="877" y="497">Struthiomimus altus</text></g>

<g id="l-falcarius"><circle class="w" cx="514" cy="504" r="9.5"/><path class="k" d="M514,504h9"/><text class="t" x="537" y="508">Falcarius</text></g>
<g id="l-beipiaosaurus"><circle class="w" cx="556" cy="514" r="9.5"/><path class="k" d="M556,514h9"/><text class="t" x="578" y="518">Beipiaosaurus</text></g>
<g id="l-alxasaurus"><circle class="w" cx="600" cy="527" r="9.5"/><text class="t" x="622" y="531">Alxasaurus elesitaiensis</text></g>
<g id="l-erliansaurus"><circle class="w" cx="641" cy="537" r="9.5"/><use href="#w90" class="b" transform="translate(641,537)"/><text class="t" x="662" y="541">Erliansaurus</text></g>
<g id="l-enigmosaurus"><circle class="w" cx="684" cy="548" r="9.5"/><text class="t" x="706" y="552">Enigmosaurus</text></g>
<g id="l-suzhousaurus"><circle class="w" cx="725" cy="559" r="9.5"/><path class="k" d="M725,559h9"/><text class="t" x="747" y="563">Suzhousaurus</text></g>
<g id="l-nanshiungosaurus"><circle class="w" cx="769" cy="569" r="9.5"/><text class="t" x="790" y="573">Nanshiungosaurus brevispinus</text></g>
<g id="l-neimongosaurus"><circle class="w" cx="810" cy="579" r="9.5"/><use href="#w90" class="b" transform="translate(810,579)"/><text class="t" x="831" y="583">Neimongosaurus</text></g>
<g id="l-therizinosaurus"><circle class="w" cx="853" cy="592" r="9.5"/><text class="t" x="875" y="596">Therizinosaurus</text></g>
<g id="l-segnosaurus"><circle class="w" cx="894" cy="603" r="9.5"/><path class="k" d="M894,603h9"/><text class="t" x="918" y="607">Segnosaurus galbinensis</text></g>
<g id="l-nothronychus"><circle class="w" cx="938" cy="613" r="9.5"/><text class="t" x="962" y="617">Nothronychus</text></g>
<g id="l-erlikosaurus"><circle class="w" cx="938" cy="624" r="9.5"/><text class="t" x="962" y="628">Erlikosaurus andrewsi</text></g>

<g id="l-haplocheirus"><circle class="w" cx="513" cy="634" r="9.5"/><path class="k" d="M513,634h9"/><text class="t" x="537" y="638">Haplocheirus</text></g>
<g id="l-achillesaurus"><circle class="w" cx="557" cy="647" r="9.5"/><path class="k" d="M557,647h9"/><text class="t" x="579" y="651">Achillesaurus</text></g>
<g id="l-alvarezsaurus"><circle class="w" cx="600" cy="659" r="9.5"/><use href="#w90" class="b" transform="translate(600,659)"/><text class="t" x="622" y="663">Alvarezsaurus calvoi</text></g>
<g id="l-bonapartenykus"><circle class="w" cx="683" cy="667" r="9.5"/><use href="#w45" class="b" transform="translate(683,667) rotate(20)"/><text class="t" x="705" y="671">Bonapartenykus</text></g>
<g id="l-patagonykus"><circle class="w" cx="683" cy="679" r="9.5"/><text class="t" x="705" y="683">Patagonykus puertai</text></g>
<g id="l-albertonykus"><circle class="w" cx="683" cy="690" r="9.5"/><text class="t" x="705" y="694">Albertonykus</text></g>
<g id="l-xixianykus"><circle class="w" cx="768" cy="701" r="9.5"/><text class="t" x="790" y="705">Xixianykus</text></g>
<g id="l-albinykus"><circle class="w" cx="768" cy="712" r="9.5"/><text class="t" x="790" y="716">Albinykus</text></g>
<g id="l-ceratonykus"><circle class="w" cx="768" cy="723" r="9.5"/><text class="t" x="790" y="727">Ceratonykus</text></g>
<g id="l-mononykus"><circle class="w" cx="811" cy="736" r="9.5"/><text class="t" x="833" y="740">Mononykus olecranus</text></g>
<g id="l-shuvuuia"><circle class="w" cx="851" cy="746" r="9.5"/><path class="k" d="M851,746h9"/><text class="t" x="875" y="750">Shuvuuia deserti</text></g>
<g id="l-linhenykus"><circle class="w" cx="897" cy="757" r="9.5"/><path class="k" d="M897,757h9"/><text class="t" x="920" y="761">Linhenykus</text></g>
<g id="l-parvicursor"><circle class="w" cx="897" cy="769" r="9.5"/><text class="t" x="920" y="773">Parvicursor</text></g>

<g id="l-epidexipteryx"><circle class="w" cx="557" cy="777" r="9.5"/><use href="#w90" class="d" transform="translate(557,777)"/><text class="t" x="578" y="781">Epidexipteryx</text></g>
<g id="l-pedopenna"><circle class="w" cx="557" cy="790" r="9.5"/><text class="t" x="578" y="794">Pedopenna</text></g>
<g id="l-incisivosaurus"><circle class="w" cx="557" cy="802" r="9.5"/><text class="t" x="578" y="806">Incisivosaurus gauthieri</text></g>
<g id="l-kinnareemimus"><circle class="w" cx="642" cy="812" r="9.5"/><text class="t" x="663" y="816">Kinnareemimus</text></g>
<g id="l-caudipteryx"><circle class="w" cx="642" cy="823" r="9.5"/><text class="t" x="663" y="827">Caudipteryx zoui</text></g>
<g id="l-avimimus"><circle class="w" cx="642" cy="835" r="9.5"/><text class="t" x="663" y="839">Avimimus portentosus</text></g>
<g id="l-microvenator"><circle class="w" cx="685" cy="845" r="9.5"/><text class="t" x="705" y="849">Microvenator celer</text></g>
<g id="l-chirostenotes"><circle class="w" cx="727" cy="857" r="9.5"/><text class="t" x="748" y="861">Chirostenotes pergracilis</text></g>
<g id="l-citipati"><circle class="w" cx="768" cy="867" r="9.5"/><use href="#w90" class="b" transform="translate(768,867)"/><text class="t" x="791" y="871">Citipati osmolskae</text></g>
<g id="l-conchoraptor"><circle class="w" cx="853" cy="877" r="9.5"/><text class="t" x="876" y="881">Conchoraptor gracilis</text></g>
<g id="l-rinchenia"><circle class="w" cx="853" cy="888" r="9.5"/><text class="t" x="876" y="892">Rinchenia mongoliensis</text></g>
<g id="l-ingenia"><circle class="w" cx="853" cy="898" r="9.5"/><text class="t" x="876" y="902">Ingenia yanshani</text></g>
<g id="l-oviraptor"><circle class="w" cx="853" cy="909" r="9.5"/><text class="t" x="876" y="913">Oviraptor philoceratops</text></g>

<g id="l-pyroraptor"><circle class="w" cx="556" cy="920" r="9.5"/><use href="#w90" class="b" transform="translate(556,920) rotate(315)"/><text class="t" x="578" y="924">Pyroraptor olympius</text></g>
<g id="l-mahakala"><circle class="B" cx="598" cy="933" r="9.5"/><text class="t" x="622" y="937">Mahakala omnogovae</text></g>
<g id="l-rahonavis"><circle class="w" cx="683" cy="942" r="9.5"/><use href="#w180" class="b" transform="translate(683,942) rotate(270)"/><text class="t" x="706" y="946">Rahonavis ostromi</text></g>
<g id="l-buitreraptor"><circle class="w" cx="726" cy="955" r="9.5"/><text class="t" x="748" y="959">Buitreraptor gonzalozorum</text></g>
<g id="l-austroraptor"><circle class="w" cx="768" cy="965" r="9.5"/><text class="t" x="792" y="969">Austroraptor</text></g>
<g id="l-neuquenraptor"><circle class="w" cx="768" cy="976" r="9.5"/><text class="t" x="792" y="980">Neuquenraptor plus Unenlagia</text></g>
<g id="l-graciliraptor"><circle class="w" cx="726" cy="988" r="9.5"/><text class="t" x="749" y="992">Graciliraptor lujiatunensis</text></g>
<g id="l-tianyuraptor"><circle class="w" cx="768" cy="998" r="9.5"/><use href="#w300" class="r" transform="translate(768,998) rotate(120)"/><text class="t" x="792" y="1002">Tianyuraptor ostromi</text></g>
<g id="l-microraptor"><circle class="w" cx="811" cy="1009" r="9.5"/><use href="#w300" class="r" transform="translate(811,1009) rotate(180)"/><text class="t" x="832" y="1013">Microraptor zhaoianus</text></g>
<g id="l-sinornithosaurus"><circle class="w" cx="811" cy="1021" r="9.5"/><use href="#w60" class="d" transform="translate(811,1021) rotate(240)"/><text class="t" x="832" y="1025">Sinornithosaurus millenii</text></g>
<g id="l-achillobator"><circle class="w" cx="768" cy="1031" r="9.5"/><text class="t" x="792" y="1035">Achillobator giganticus</text></g>
<g id="l-utahraptor"><circle class="w" cx="768" cy="1042" r="9.5"/><path class="k" d="M768,1042h9"/><text class="t" x="792" y="1046">Utahraptor</text></g>
<g id="l-dromaeosaurus"><circle class="w" cx="768" cy="1053" r="9.5"/><text class="t" x="792" y="1057">Dromaeosaurus albertensis</text></g>
<g id="l-tsaagan"><circle class="w" cx="811" cy="1064" r="9.5"/><text class="t" x="833" y="1068">Tsaagan mangas</text></g>
<g id="l-saurornitholestes"><circle class="w" cx="896" cy="1074" r="9.5"/><text class="t" x="919" y="1078">Saurornitholestes langsto</text></g>
<g id="l-bambiraptor"><circle class="w" cx="896" cy="1085" r="9.5"/><text class="t" x="919" y="1089">Bambiraptor feinbergorum</text></g>
<g id="l-adasaurus"><circle class="w" cx="896" cy="1096" r="9.5"/><use href="#w60" class="v" transform="translate(896,1096) rotate(60)"/><text class="t" x="919" y="1100">Adasaurus mongoliensis</text></g>
<g id="l-balaur"><circle class="w" cx="938" cy="1108" r="9.5"/><text class="t" x="962" y="1112">Balaur bondoc</text></g>
<g id="l-velociraptor"><circle class="B" cx="981" cy="1120" r="9.5"/><text class="t" x="1004" y="1124">Velociraptor mongoliensis</text></g>
<g id="l-deinonychus"><circle class="w" cx="981" cy="1131" r="9.5"/><text class="t" x="1004" y="1135">Deinonychus antirrhopus</text></g>

<g id="l-hesperonychus"><circle class="w" cx="556" cy="1142" r="9.5"/><text class="t" x="579" y="1146">Hesperonychus elizabethae</text></g>
<g id="l-anchiornis"><circle class="w" cx="683" cy="1152" r="9.5"/><use href="#w300" class="r" transform="translate(683,1152) rotate(180)"/><text class="t" x="705" y="1156">Anchiornis huxleyi</text></g>
<g id="l-eosinopteryx"><circle class="w" cx="725" cy="1163" r="9.5"/><path class="k" d="M725,1163h9"/><text class="t" x="749" y="1167">Eosinopteryx</text></g>
<g id="l-aurornis"><circle class="w" cx="768" cy="1173" r="9.5"/><use href="#w270" class="r" transform="translate(768,1173) rotate(315)"/><text class="t" x="789" y="1177">Aurornis</text></g>
<g id="l-xiaotingia"><circle class="w" cx="768" cy="1185" r="9.5"/><use href="#w180" class="r" transform="translate(768,1185) rotate(180)"/><text class="t" x="789" y="1189">Xiaotingia</text></g>
<g id="l-igm1323"><circle class="w" cx="725" cy="1197" r="9.5"/><text class="t" x="749" y="1201">IGM 100 slash 1323</text></g>
<g id="l-igm1126"><circle class="w" cx="768" cy="1208" r="9.5"/><text class="t" x="789" y="1212">IGM 100 slash 1126</text></g>
<g id="l-jinfengopteryx"><circle class="w" cx="768" cy="1219" r="9.5"/><text class="t" x="789" y="1223">Jinfengopteryx elegans</text></g>
<g id="l-sinovenator"><circle class="w" cx="768" cy="1228" r="9.5"/><use href="#w30" class="d" transform="translate(768,1228) rotate(60)"/><path class="k" d="M768,1228h9"/><text class="t" x="789" y="1233">Sinovenator changii</text></g>
<g id="l-meilong"><circle class="w" cx="768" cy="1238" r="9.5"/><path class="k" d="M768,1238h9"/><text class="t" x="789" y="1243">Mei long</text></g>
<g id="l-xixiasaurus"><circle class="w" cx="768" cy="1252" r="9.5"/><text class="t" x="789" y="1256">Xixiasaurus</text></g>
<g id="l-ektroodontid"><circle class="w" cx="812" cy="1263" r="9.5"/><text class="t" x="831" y="1267">EK troodontid IGM 100 slash 44</text></g>
<g id="l-byronosaurus"><circle class="w" cx="853" cy="1275" r="9.5"/><text class="t" x="876" y="1279">Byronosaurus jaffei</text></g>
<g id="l-sinornithoides"><circle class="w" cx="897" cy="1285" r="9.5"/><text class="t" x="920" y="1289">Sinornithoides youngi</text></g>
<g id="l-troodon"><circle class="w" cx="939" cy="1297" r="9.5"/><text class="t" x="964" y="1301">Troodon formosus</text></g>
<g id="l-zanabazar"><circle class="w" cx="981" cy="1306" r="9.5"/><text class="t" x="1002" y="1310">Zanabazar junior</text></g>
<g id="l-saurornithoides"><circle class="w" cx="981" cy="1316" r="9.5"/><text class="t" x="1002" y="1320">Saurornithoides mongolien</text></g>

<g id="l-epidendrosaurus"><circle class="w" cx="683" cy="1328" r="9.5"/><use href="#w300" class="r" transform="translate(683,1328) rotate(240)"/><text class="t" x="706" y="1332">Epidendrosaurus</text></g>
<g id="l-archaeopteryx"><circle class="w" cx="683" cy="1340" r="9.5"/><text class="t" x="706" y="1343">Archaeopteryx lithographi</text></g>
<g id="l-sapeornis"><circle class="w" cx="683" cy="1348" r="9.5"/><text class="t" x="706" y="1354">Sapeornis</text></g>
<g id="l-jeholornis"><circle class="w" cx="726" cy="1357" r="9.5"/><use href="#w90" class="b" transform="translate(726,1357) rotate(315)"/><use href="#w30" class="r" transform="translate(726,1357) rotate(45)"/><text class="t" x="748" y="1361">Jeholornis prima</text></g>
<g id="l-jixiangornis"><circle class="w" cx="769" cy="1372" r="9.5"/><use href="#w60" class="r" transform="translate(769,1372)"/><text class="t" x="792" y="1376">Jixiangornis orientalis</text></g>
<g id="l-confuciusornis"><circle class="w" cx="811" cy="1382" r="9.5"/><use href="#w180" class="r" transform="translate(811,1382) rotate(270)"/><text class="t" x="834" y="1386">Confuciusornis sanctus</text></g>
<g id="l-liaoningornis"><circle class="w" cx="939" cy="1393" r="9.5"/><use href="#w300" class="r" transform="translate(939,1393) rotate(180)"/><text class="t" x="962" y="1397">Liaoningornis longidigitu</text></g>
<g id="l-vorona"><circle class="w" cx="939" cy="1405" r="9.5"/><text class="t" x="964" y="1408">Vorona</text></g>
<g id="l-gobipteryx"><circle class="w" cx="939" cy="1414" r="9.5"/><text class="t" x="964" y="1418">Gobipteryx</text></g>
<g id="l-pengornis"><circle class="w" cx="980" cy="1426" r="9.5"/><use href="#w330" class="r" transform="translate(980,1426) rotate(120)"/><text class="t" x="1004" y="1429">Pengornis houi</text></g>
<g id="l-neuquenornis"><circle class="w" cx="1025" cy="1437" r="9.5"/><text class="t" x="1047" y="1441">Neuquenornis volans</text></g>
<g id="l-concornis"><circle class="w" cx="1066" cy="1448" r="9.5"/><text class="t" x="1088" y="1452">Concornis</text></g>
<g id="l-cathayornis"><circle class="w" cx="1066" cy="1459" r="9.5"/><text class="t" x="1088" y="1463">Cathayornis</text></g>
<g id="l-patagopteryx"><circle class="w" cx="896" cy="1472" r="9.5"/><text class="t" x="918" y="1475">Patagopteryx deferrariisi</text></g>
<g id="l-hongshanornis"><circle class="R" cx="939" cy="1483" r="9.5"/><text class="t" x="961" y="1486">Hongshanornis longicrest</text></g>
<g id="l-songlingornis"><circle class="w" cx="1024" cy="1492" r="9.5"/><text class="t" x="1046" y="1497">Songlingornis</text></g>
<g id="l-yanornis"><circle class="w" cx="1024" cy="1503" r="9.5"/><text class="t" x="1046" y="1507">Yanornis martini</text></g>
<g id="l-yixianornis"><circle class="w" cx="1024" cy="1516" r="9.5"/><use href="#w270" class="r" transform="translate(1024,1516) rotate(90)"/><text class="t" x="1046" y="1520">Yixianornis</text></g>
<g id="l-apsaravis"><circle class="w" cx="1066" cy="1525" r="9.5"/><text class="t" x="1088" y="1528">Apsaravis ukhaana</text></g>
<g id="l-ichthyornis"><circle class="w" cx="1151" cy="1537" r="9.5"/><path class="k" d="M1151,1537h9"/><text class="t" x="1174" y="1541">Ichthyornis</text></g>
<g id="l-baptornis"><circle class="w" cx="1194" cy="1548" r="9.5"/><path class="k" d="M1194,1548h9"/><text class="t" x="1216" y="1552">Baptornis</text></g>
<g id="l-hesperornis"><circle class="w" cx="1194" cy="1558" r="9.5"/><text class="t" x="1216" y="1562">Hesperornis</text></g>
<g id="l-limenavis"><circle class="w" cx="1151" cy="1568" r="9.5"/><text class="t" x="1174" y="1572">Limenavis patagonica</text></g>
<g id="l-iaceornis"><circle class="w" cx="1151" cy="1583" r="9.5"/><text class="t" x="1174" y="1586">Iaceornis marshii</text></g>
</g>
</svg>
